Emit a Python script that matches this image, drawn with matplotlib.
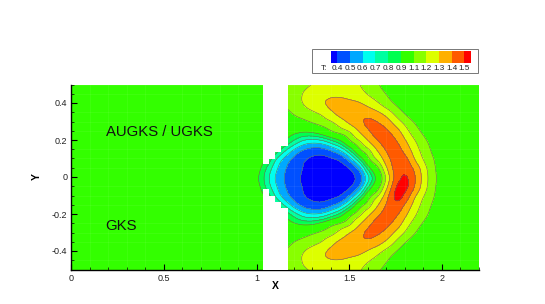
#!/usr/bin/env python3
import matplotlib

matplotlib.use("Agg")
import matplotlib.pyplot as plt
import numpy as np
from matplotlib.colors import BoundaryNorm, ListedColormap
from matplotlib.patches import Rectangle

plt.rcParams["font.family"] = ["Liberation Sans", "DejaVu Sans"]

levels = [0.4, 0.5, 0.6, 0.7, 0.8, 0.9, 1.1, 1.2, 1.3, 1.4, 1.5]
level_labels = ["0.4", "0.5", "0.6", "0.7", "0.8", "0.9", "1.1", "1.2", "1.3", "1.4", "1.5"]
band_colors = [
    "#0000ff", "#0050ff", "#00a8ff", "#00ffee", "#00ffa0", "#00ff50",
    "#33ff00", "#88ff00", "#ddff00", "#ffb000", "#ff5a00", "#ff0000",
]

# Temperature, one row per y, x columns 1.00 to 2.00 by 0.05.
x_cols = np.arange(21) * 0.05 + 1.0
t_000 = [.91, .72, .56, .48, .42, .38, .35, .33, .33, .34, .36, .42, .66, .98, 1.25, 1.47, 1.54, 1.40, 1.24, 1.12, 1.04]
t_p05 = [.95, .76, .60, .49, .43, .39, .36, .34, .34, .35, .38, .50, .85, 1.08, 1.32, 1.47, 1.48, 1.38, 1.23, 1.11, 1.03]
t_p10 = [.98, .88, .66, .53, .45, .395, .37, .36, .37, .40, .53, .76, 1.13, 1.22, 1.38, 1.46, 1.44, 1.28, 1.18, 1.10, 1.02]
t_p15 = [1.0, .98, .85, .68, .54, .46, .43, .43, .49, .59, .78, 1.12, 1.17, 1.32, 1.43, 1.45, 1.36, 1.24, 1.15, 1.07, 1.01]
t_p20 = [1.0, 1.0, .97, .90, .76, .65, .62, .65, .76, .88, 1.14, 1.19, 1.31, 1.41, 1.45, 1.41, 1.30, 1.20, 1.12, 1.05, 1.0]
t_p25 = [1.0, 1.0, 1.0, .96, .93, .90, .92, 1.0, 1.12, 1.16, 1.19, 1.31, 1.40, 1.46, 1.42, 1.35, 1.23, 1.14, 1.07, 1.01, 1.0]
t_p30 = [1.0, 1.0, 1.0, 1.0, 1.04, 1.07, 1.12, 1.16, 1.18, 1.25, 1.33, 1.39, 1.44, 1.41, 1.35, 1.25, 1.17, 1.09, 1.03, 1.0, 1.0]
t_p35 = [1.0, 1.0, 1.0, 1.06, 1.12, 1.15, 1.18, 1.21, 1.29, 1.35, 1.38, 1.39, 1.37, 1.33, 1.26, 1.16, 1.08, 1.02, 1.0, 1.0, 1.0]
t_p40 = [1.0, 1.0, 1.05, 1.12, 1.17, 1.21, 1.26, 1.30, 1.34, 1.36, 1.34, 1.32, 1.27, 1.21, 1.14, 1.08, 1.03, 1.0, 1.0, 1.0, 1.0]
t_p45 = [1.0, 1.05, 1.12, 1.15, 1.18, 1.21, 1.25, 1.28, 1.29, 1.28, 1.26, 1.24, 1.19, 1.15, 1.09, 1.04, 1.0, 1.0, 1.0, 1.0, 1.0]
t_p50 = [1.0, 1.05, 1.12, 1.15, 1.17, 1.19, 1.20, 1.23, 1.25, 1.25, 1.23, 1.20, 1.15, 1.10, 1.06, 1.02, 1.0, 1.0, 1.0, 1.0, 1.0]
# Below the axis the field mirrors the top, except for the red patch.
t_m05 = [.95, .76, .60, .49, .43, .39, .36, .34, .34, .35, .38, .50, .85, 1.08, 1.32, 1.55, 1.54, 1.38, 1.23, 1.11, 1.03]
t_m10 = [.98, .88, .66, .53, .45, .395, .37, .36, .37, .40, .53, .76, 1.13, 1.22, 1.40, 1.57, 1.45, 1.28, 1.18, 1.10, 1.02]
t_m15 = [1.0, .98, .85, .68, .54, .46, .43, .43, .49, .59, .78, 1.12, 1.17, 1.32, 1.44, 1.47, 1.36, 1.24, 1.15, 1.07, 1.01]

# White gap in the mesh, stepped near the axis.
gap_x = [1.032, 1.068, 1.10, 1.133, 1.168]
gap_floor = [.068, .10, .137, .17, .17]
gap_ceil = [-.067, -.10, -.133, -.169, -.169]


def temperature():
    rows = [t_p50, t_p45, t_p40, t_p35, t_p30, t_p25, t_p20, t_p15, t_p10, t_p05, t_000,
            t_m05, t_m10, t_m15, t_p20, t_p25, t_p30, t_p35, t_p40, t_p45, t_p50]
    y = 0.5 - np.arange(21) * 0.05
    # Pad with the free stream so the outer contours close.
    x = np.concatenate([[0.95], x_cols, [2.05]])
    t = np.pad(np.array(rows), ((0, 0), (1, 1)), constant_values=1.0)
    return x, y, t


def smooth(x, y, t, n=6):
    # The table is coarse: blow up each cell and blur, else the contours look jagged.
    box = np.ones(n) / n
    fine = np.repeat(np.repeat(t, n, axis=0), n, axis=1)
    fine = np.pad(fine, 2 * n, mode="edge")
    for axis in (0, 1):
        for _ in range(2):
            fine = np.apply_along_axis(np.convolve, axis, fine, box, mode="same")
    fine = fine[2 * n:-2 * n, 2 * n:-2 * n]
    fine_x = x[0] - 0.025 + (np.arange(fine.shape[1]) + 0.5) * 0.05 / n
    fine_y = y[0] + 0.025 - (np.arange(fine.shape[0]) + 0.5) * 0.05 / n
    return fine_x, fine_y, fine


def legend(fig):
    fig.add_artist(Rectangle((312 / 545, 1 - 73 / 304), 166 / 545, 24 / 304,
                             transform=fig.transFigure, fc="white", ec="#777777", lw=0.7, zorder=-1))
    cax = fig.add_axes([331 / 545, 1 - 62.7 / 304, 139.7 / 545, 11.7 / 304])
    # The two end bands are half as wide as the others.
    edges = np.concatenate([[-0.5], np.arange(len(levels)), [len(levels) - 0.5]])
    cax.pcolormesh(edges, [0, 1], [np.arange(len(band_colors))],
                   cmap=ListedColormap(band_colors))
    cax.set_xlim(edges[0], edges[-1])
    cax.set_xticks(np.arange(len(levels)), level_labels, fontsize=5.9, color="#222222")
    cax.set_yticks([])
    cax.tick_params(axis="x", length=0, pad=1.5)
    for spine in cax.spines.values():
        spine.set_visible(False)
    fig.text(324 / 545, 1 - 68.5 / 304, "T:", fontsize=5.9, color="#222222", ha="center", va="center")


def main():
    fig = plt.figure(figsize=(5.45, 3.04), dpi=100)
    ax = fig.add_axes([71.3 / 545, 1 - 269.5 / 304, 407.7 / 545, 185 / 304])
    ax.set_facecolor(band_colors[6])

    x, y, t = smooth(*temperature())
    cmap = ListedColormap(band_colors[1:-1])
    cmap.set_under(band_colors[0])
    cmap.set_over(band_colors[-1])
    ax.contourf(x, y, t, levels=levels, cmap=cmap, norm=BoundaryNorm(levels, cmap.N), extend="both")
    ax.contour(x, y, t, levels=levels, colors="#666666", linewidths=0.4)

    ax.fill_between(gap_x, gap_floor, 0.5, step="post", color="white", lw=0, zorder=3)
    ax.fill_between(gap_x, gap_ceil, -0.5, step="post", color="white", lw=0, zorder=3)

    ax.set_xlim(0, 2.2)
    ax.set_ylim(-0.5, 0.5)
    ax.set_xticks([0, 0.5, 1, 1.5, 2], ["0", "0.5", "1", "1.5", "2"])
    ax.set_yticks([-0.4, -0.2, 0, 0.2, 0.4], ["-0.4", "-0.2", "0", "0.2", "0.4"])
    ax.set_xticks(np.arange(23) * 0.1, minor=True)
    ax.set_yticks(np.arange(21) * 0.05 - 0.5, minor=True)
    ax.tick_params(which="major", direction="in", length=4, width=0.8, labelsize=6.5,
                   labelcolor="#222222", pad=3)
    ax.tick_params(which="minor", direction="in", length=2, width=0.5)
    ax.grid(which="minor", color="white", alpha=0.08, lw=0.5)
    ax.set_axisbelow(False)
    ax.spines["top"].set_visible(False)
    ax.spines["right"].set_visible(False)
    ax.spines["left"].set_linewidth(1.0)
    ax.spines["bottom"].set_linewidth(1.0)
    ax.set_xlabel("X", fontsize=7.5, fontweight="bold", labelpad=-1)
    ax.set_ylabel("Y", fontsize=7.5, fontweight="bold", labelpad=7)

    ax.text(0.187, 0.223, "AUGKS / UGKS", fontsize=10.7, color="#111111", zorder=5)
    ax.text(0.183, -0.286, "GKS", fontsize=10.7, color="#111111", zorder=5)

    legend(fig)
    fig.savefig("out.png", dpi=100)


if __name__ == "__main__":
    main()
